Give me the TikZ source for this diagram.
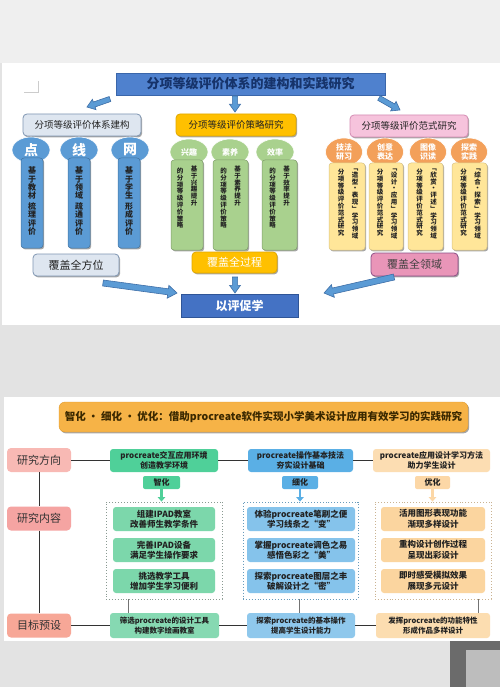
\documentclass[tikz,border=0pt]{standalone}
\usepackage{fontspec}
\setmainfont{Noto Sans CJK SC}
\usetikzlibrary{shadows,calc,arrows.meta,shapes.geometric}
\definecolor{pagebg}{HTML}{E3E3E3}
\definecolor{topstrip}{HTML}{EFEFEF}
\definecolor{titleblue}{HTML}{4F81CE}
\definecolor{titleedge}{HTML}{3A66AA}
\definecolor{titletext}{HTML}{16336A}
\definecolor{arrowblue}{HTML}{5B9BD5}
\definecolor{arrowedge}{HTML}{3E6FA8}
\definecolor{lhfill}{HTML}{DEE6F0}
\definecolor{lhedge}{HTML}{7F96B2}
\definecolor{cblue}{HTML}{5B9BD5}
\definecolor{yfill}{HTML}{FFC000}
\definecolor{yedge}{HTML}{E0A800}
\definecolor{cgreen}{HTML}{A9D18E}
\definecolor{pfill}{HTML}{F6C3DC}
\definecolor{pedge}{HTML}{D58DB4}
\definecolor{corange}{HTML}{F3A05A}
\definecolor{cyellow}{HTML}{FFE699}
\definecolor{pfoot}{HTML}{E995B8}
\definecolor{pfootedge}{HTML}{8A4F86}
\definecolor{ypblue}{HTML}{4472C4}
\definecolor{ypedge}{HTML}{2F5597}
\definecolor{darktext}{HTML}{222222}
\definecolor{labA}{HTML}{F8B9B4}
\definecolor{labB}{HTML}{F5A4A2}
\definecolor{labC}{HTML}{F7A797}
\definecolor{gHead}{HTML}{4FD099}
\definecolor{gIn}{HTML}{7CD7AB}
\definecolor{gBot}{HTML}{86D9B2}
\definecolor{bHead}{HTML}{5AAFE5}
\definecolor{bIn}{HTML}{85C3EB}
\definecolor{bBot}{HTML}{8FC8EC}
\definecolor{oHead}{HTML}{FCDDB2}
\definecolor{oTag}{HTML}{FCD7A6}
\definecolor{oIn}{HTML}{FBD59F}
\definecolor{oBot}{HTML}{FCDDB0}
\definecolor{otitle}{HTML}{F6B347}
\definecolor{otitleedge}{HTML}{E09A2C}
\definecolor{titledark}{HTML}{3A2800}
\definecolor{dotgray}{HTML}{8A9A92}
\definecolor{objdark}{HTML}{6B6B6B}
\definecolor{objlight}{HTML}{BDBDBD}
\makeatletter
\newcommand\vstack[1]{\edef\vs@list{#1}\def\vs@sep{}\expandafter\vs@loop\expandafter{\vs@list}}
\newcommand\vs@loop[1]{\@tfor\vs@ch:=#1\do{\vs@sep\vs@ch\def\vs@sep{\par}}}
\makeatother
\newcommand\barrow[6]{%
  \begin{scope}[shift={(#1,#2)},rotate=#3]
    \filldraw[arrowsty] (0pt,-#5pt) -- ({(#4-1.4*#6)*1pt},-#5pt) -- ({(#4-1.4*#6)*1pt},-#6pt)
      -- (#4pt,0pt) -- ({(#4-1.4*#6)*1pt},#6pt) -- ({(#4-1.4*#6)*1pt},#5pt) -- (0pt,#5pt) -- cycle;
  \end{scope}}
\begin{document}
\begin{tikzpicture}[x=1pt,y=-1pt,
  every node/.style={inner sep=0pt, align=center, text=darktext},
  shad/.style={drop shadow={shadow xshift=1.2pt,shadow yshift=-1.4pt,opacity=.35,fill=black}},
  hdr/.style={draw, rounded corners=4pt, line width=0.8pt, shad, font=\fontsize{9.5}{10}\selectfont},
  foot/.style={draw, rounded corners=4pt, line width=0.8pt, shad, font=\fontsize{11}{11}\selectfont},
  circ/.style={ellipse, fill=#1, draw=white, line width=0.6pt},
  colbox/.style={rounded corners=3pt, fill=#1, draw=#1!75!black, line width=.5pt, shad},
  vtxt/.style={text width=7pt, anchor=north, font=\bfseries\fontsize{6.5}{6.8}\selectfont},
  arrowsty/.style={fill=arrowblue, draw=arrowedge, line width=.6pt},
  lab/.style={fill=#1, rounded corners=4pt, minimum width=64, minimum height=24, font=\fontsize{11}{11}\selectfont, text=black!80},
  headbox/.style={fill=#1, rounded corners=3pt, minimum height=23, font=\bfseries\fontsize{8}{9.5}\selectfont},
  tagbox/.style={fill=#1, rounded corners=2pt, minimum height=13, font=\bfseries\fontsize{8}{8}\selectfont},
  dotbox/.style={draw=#1, dotted, line width=.9pt, minimum height=97},
  ibox/.style={fill=#1, rounded corners=3pt, minimum height=24, font=\bfseries\fontsize{8.5}{10.5}\selectfont},
  botbox/.style={fill=#1, rounded corners=3pt, minimum height=25, font=\bfseries\fontsize{7.5}{9.5}\selectfont},
  conn/.style={draw=black!80, line width=.8pt},
  tagarr/.style={draw=#1, line width=2.6pt, -{Triangle[width=7.5pt,length=4.5pt]}}
]
\useasboundingbox (0,0) rectangle (500,687);
% backgrounds
\fill[pagebg] (0,0) rectangle (500,687);
\fill[topstrip] (0,0) rectangle (500,63);
\fill[white] (2,63) rectangle (500,325);
\fill[white] (4,397) rectangle (500,641);
\fill[objdark] (450,641) rectangle (500,687);
\fill[objlight] (466,650) rectangle (500,687);
\draw[black!20, line width=.6pt] (38,81) -- (38,92) -- (24,92);

% ===== top diagram =====
\node[draw=titleedge, fill=titleblue, minimum width=269, minimum height=22, shad,
  font=\bfseries\fontsize{13}{14}\selectfont, text=titletext] (title) at (250.5,84) {分项等级评价体系的建构和实践研究};

\node[hdr, draw=lhedge, fill=lhfill, minimum width=118, minimum height=22] (lh) at (82,125) {分项等级评价体系建构};
\node[hdr, draw=yedge, fill=yfill, minimum width=120, minimum height=22] (mh) at (236,125) {分项等级评价策略研究};
\node[hdr, draw=pedge, fill=pfill, minimum width=118, minimum height=22] (rh) at (409,126) {分项等级评价范式研究};

\barrow{110}{99}{199.2}{24.4}{2.6}{5.5}
\barrow{235}{96}{-90}{16}{2.6}{5.5}
\barrow{379}{98}{-29.7}{24.2}{2.6}{5.5}

% blue column group
\node[circ=cblue, minimum width=38, minimum height=26, font=\bfseries\fontsize{14}{14}\selectfont, text=white] (bc1) at (31,150) {点};
\node[circ=cblue, minimum width=38, minimum height=26, font=\bfseries\fontsize{14}{14}\selectfont, text=white] (bc2) at (79,150) {线};
\node[circ=cblue, minimum width=38, minimum height=26, font=\bfseries\fontsize{14}{14}\selectfont, text=white] (bc3) at (130,150) {网};
\node[colbox=cblue, minimum width=22, minimum height=90] (bcol1) at (32,203) {};
\node[colbox=cblue, minimum width=22, minimum height=90] (bcol2) at (79,203) {};
\node[colbox=cblue, minimum width=22, minimum height=90] (bcol3) at (129,203) {};
\node[vtxt, text width=9pt, font=\bfseries\fontsize{8}{8.3}\selectfont] at ($(bcol1.north)+(0,9)$) {\vstack{基于教材}\par\vspace{2.5pt}\vstack{梳理评价}};
\node[vtxt, text width=9pt, font=\bfseries\fontsize{8}{8.3}\selectfont] at ($(bcol2.north)+(0,9)$) {\vstack{基于领域}\par\vspace{2.5pt}\vstack{疏通评价}};
\node[vtxt, text width=9pt, font=\bfseries\fontsize{8}{8.3}\selectfont] at ($(bcol3.north)+(0,9)$) {\vstack{基于学生}\par\vspace{2.5pt}\vstack{形成评价}};

% green column group
\node[circ=cgreen, minimum width=38, minimum height=26, font=\bfseries\fontsize{8}{8}\selectfont, text=white] (gc1) at (189,152) {兴趣};
\node[circ=cgreen, minimum width=38, minimum height=26, font=\bfseries\fontsize{8}{8}\selectfont, text=white] (gc2) at (230,152) {素养};
\node[circ=cgreen, minimum width=38, minimum height=26, font=\bfseries\fontsize{8}{8}\selectfont, text=white] (gc3) at (275,152) {效率};
\node[colbox=cgreen, minimum width=32, minimum height=90] (gcol1) at (187,205) {};
\node[colbox=cgreen, minimum width=35, minimum height=90] (gcol2) at (230.5,205) {};
\node[colbox=cgreen, minimum width=35, minimum height=90] (gcol3) at (279.5,205) {};
\node[vtxt] at ($(gcol1.north)+(7,6)$) {\vstack{基于兴趣提升}};
\node[vtxt] at ($(gcol1.north)+(-7,8)$) {\vstack{的分项等级评价策略}};
\node[vtxt] at ($(gcol2.north)+(7,6)$) {\vstack{基于素养提升}};
\node[vtxt] at ($(gcol2.north)+(-7,8)$) {\vstack{的分项等级评价策略}};
\node[vtxt] at ($(gcol3.north)+(7,6)$) {\vstack{基于效率提升}};
\node[vtxt] at ($(gcol3.north)+(-7,8)$) {\vstack{的分项等级评价策略}};

% pink/orange group
\node[circ=corange, minimum width=37, minimum height=28, font=\bfseries\fontsize{8}{9.5}\selectfont, text=white] (oc1) at (344,152) {技法\\研习};
\node[circ=corange, minimum width=37, minimum height=28, font=\bfseries\fontsize{8}{9.5}\selectfont, text=white] (oc2) at (385,152) {创意\\表达};
\node[circ=corange, minimum width=37, minimum height=28, font=\bfseries\fontsize{8}{9.5}\selectfont, text=white] (oc3) at (428,152) {图像\\识读};
\node[circ=corange, minimum width=37, minimum height=28, font=\bfseries\fontsize{8}{9.5}\selectfont, text=white] (oc4) at (469,152) {探索\\实践};
\node[colbox=cyellow, draw=cyellow!85!black, minimum width=36, minimum height=87] (ycol1) at (347,206.5) {};
\node[colbox=cyellow, draw=cyellow!85!black, minimum width=34, minimum height=87] (ycol2) at (386,206.5) {};
\node[colbox=cyellow, draw=cyellow!85!black, minimum width=35, minimum height=87] (ycol3) at (425.5,206.5) {};
\node[colbox=cyellow, draw=cyellow!85!black, minimum width=35, minimum height=87] (ycol4) at (469.5,206.5) {};
\node[vtxt] at ($(ycol1.north)+(8,6)$) {\vstack{﹁造型·表现﹂学习领域}};
\node[vtxt] at ($(ycol1.north)+(-6,6)$) {\vstack{分项等级评价范式研究}};
\node[vtxt] at ($(ycol2.north)+(8,6)$) {\vstack{﹁设计·应用﹂学习领域}};
\node[vtxt] at ($(ycol2.north)+(-6,6)$) {\vstack{分项等级评价范式研究}};
\node[vtxt] at ($(ycol3.north)+(8,6)$) {\vstack{﹁欣赏·评述﹂学习领域}};
\node[vtxt] at ($(ycol3.north)+(-6,6)$) {\vstack{分项等级评价范式研究}};
\node[vtxt] at ($(ycol4.north)+(8,6)$) {\vstack{﹁综合·探索﹂学习领域}};
\node[vtxt] at ($(ycol4.north)+(-6,6)$) {\vstack{分项等级评价范式研究}};

% footers
\node[foot, draw=lhedge, fill=lhfill, minimum width=86, minimum height=22] (lf) at (76,265) {覆盖全方位};
\node[foot, draw=yedge, fill=yfill, text=white, minimum width=85, minimum height=21] (mf) at (234.5,262.5) {覆盖全过程};
\node[foot, draw=pfootedge, fill=pfoot, text=black!75, minimum width=87, minimum height=23] (rf) at (414.5,264.5) {覆盖全领域};
\node[draw=ypedge, fill=ypblue, text=white, shad, minimum width=117, minimum height=23,
  font=\bfseries\fontsize{12}{12}\selectfont] (yp) at (239.5,305.5) {以评促学};

\barrow{103}{283}{-7.7}{74.7}{3}{6.5}
\barrow{235}{277}{-90}{16}{2.6}{5.5}
\barrow{394}{277}{192.9}{71.8}{3}{6.5}

% ===== bottom diagram =====
\node[fill=otitle, draw=otitleedge, rounded corners=6pt, shad, minimum width=409, minimum height=30,
  font=\bfseries\fontsize{10.5}{11}\selectfont, text=titledark] (btitle) at (263.5,417)
  {智化 · 细化 · 优化：借助procreate软件实现小学美术设计应用有效学习的实践研究};

\node[lab=labA] (dir) at (39,460) {研究方向};
\node[lab=labB] (con) at (39,518.5) {研究内容};
\node[lab=labC] (goal) at (39,625.5) {目标预设};

\node[headbox=gHead, minimum width=108] (h1) at (164,460.5) {procreate交互应用环境\\创造教学环境};
\node[headbox=bHead, minimum width=105] (h2) at (300.5,460.5) {procreate操作基本技法\\夯实设计基础};
\node[headbox=oHead, minimum width=117] (h3) at (431.5,460.5) {procreate应用设计学习方法\\助力学生设计};

\node[tagbox=gHead, minimum width=37] (t1) at (161.5,482.5) {智化};
\node[tagbox=bHead, minimum width=36] (t2) at (300,482.5) {细化};
\node[tagbox=oTag, minimum width=35] (t3) at (432.5,482.5) {优化};

\node[dotbox=dotgray, minimum width=116] (d1) at (164,550.5) {};
\node[dotbox=bHead!60!gray, minimum width=115] (d2) at (300.5,550.5) {};
\node[dotbox=oIn!60!gray, minimum width=116] (d3) at (433,550.5) {};

\draw[tagarr=gHead] (t1.south) -- (d1.north -| t1.south);
\draw[tagarr=bHead] (t2.south) -- (d2.north -| t2.south);
\draw[tagarr=oTag] (t3.south) -- (d3.north -| t3.south);

\node[ibox=gIn, minimum width=102] (g1) at (164,519) {组建IPAD教室\\改善师生教学条件};
\node[ibox=gIn, minimum width=102] (g2) at (164,550) {完善IPAD设备\\满足学生操作要求};
\node[ibox=gIn, minimum width=102] (g3) at (164,581) {挑选教学工具\\增加学生学习便利};
\node[ibox=bIn, minimum width=108] (u1) at (301,519) {体验procreate笔刷之便\\学习线条之“变”};
\node[ibox=bIn, minimum width=108] (u2) at (301,550) {掌握procreate调色之易\\感悟色彩之“美”};
\node[ibox=bIn, minimum width=108] (u3) at (301,581) {探索procreate图层之丰\\破解设计之“密”};
\node[ibox=oIn, minimum width=104] (o1) at (433,519) {活用图形表现功能\\渐现多样设计};
\node[ibox=oIn, minimum width=104] (o2) at (433,550) {重构设计创作过程\\呈现出彩设计};
\node[ibox=oIn, minimum width=104] (o3) at (433,581) {即时感受模拟效果\\展现多元设计};

\node[botbox=gBot, minimum width=109] (b1) at (164.5,625.5) {筛选procreate的设计工具\\构建数字绘画教室};
\node[botbox=bBot, minimum width=108] (b2) at (301,625.5) {探索procreate的基本操作\\提高学生设计能力};
\node[botbox=oBot, minimum width=114] (b3) at (433,625.5) {发挥procreate的功能特性\\形成作品多样设计};

% connectors
\draw[conn] (dir.east) -- (dir.east -| h1.west);
\draw[conn] (h1.east) -- (h1.east -| h2.west);
\draw[conn] (h2.east) -- (h2.east -| h3.west);
\draw[conn] (dir.south) -- (con.north);
\draw[conn] (con.south) -- (goal.north);
\draw[conn] (goal.east) -- (goal.east -| b1.west);
\draw[conn] (b1.east) -- (b1.east -| b2.west);
\draw[conn] (b2.east) -- (b2.east -| b3.west);
\coordinate (k1) at ($(d1.south)+(-36,0)$);
\coordinate (k2) at ($(d2.south)+(-1,0)$);
\coordinate (k3) at ($(d3.south)+(45,0)$);
\draw[black!55, line width=.6pt] (k1) -- (k1 |- b1.north);
\draw[black!55, line width=.6pt] (k2) -- (k2 |- b2.north);
\draw[black!55, line width=.6pt] (k3) -- (k3 |- b3.north);
\end{tikzpicture}
\end{document}
